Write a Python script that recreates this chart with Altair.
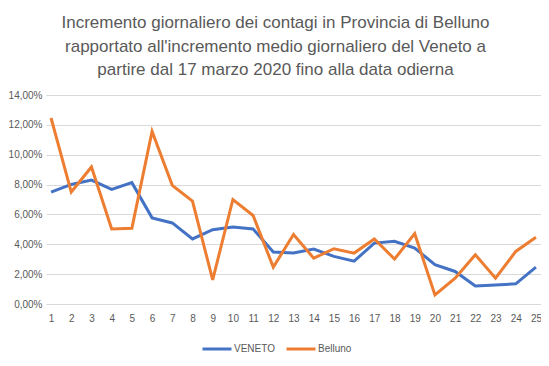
import altair as alt
import pandas as pd

days = list(range(1, 26))
veneto = [7.50, 8.01, 8.30, 7.68, 8.13, 5.77, 5.43, 4.36, 4.98, 5.16, 5.03, 3.48, 3.41,
          3.68, 3.19, 2.87, 4.08, 4.20, 3.75, 2.63, 2.18, 1.21, 1.28, 1.35, 2.47]
belluno = [12.46, 7.50, 9.18, 5.03, 5.07, 11.56, 7.95, 6.89, 1.62, 7.00, 5.93, 2.47, 4.65,
           3.07, 3.70, 3.41, 4.36, 3.01, 4.71, 0.61, 1.73, 3.30, 1.73, 3.52, 4.47]
series = ["VENETO", "Belluno"]
colors = ["#4472C4", "#ED7D31"]
y_ticks = [0, 2, 4, 6, 8, 10, 12, 14]
title_lines = ["Incremento giornaliero dei contagi in  Provincia di Belluno",
               "rapportato all'incremento medio giornaliero del Veneto a",
               "partire dal 17 marzo 2020 fino alla data odierna"]

rows = []
for d, v in zip(days, veneto):
    rows.append({"giorno": d, "valore": v, "serie": series[0]})
for d, v in zip(days, belluno):
    rows.append({"giorno": d, "valore": v, "serie": series[1]})
df = pd.DataFrame(rows)

chart = alt.Chart(df).mark_line(strokeWidth=3).encode(
    x=alt.X("giorno:Q", scale=alt.Scale(domain=[0.75, 25.25], nice=False, zero=False),
            axis=alt.Axis(values=days, title=None, grid=False, ticks=False,
                          domainColor="#d9d9d9", labelColor="#595959", labelFontSize=10,
                          labelPadding=9, labelFont="Liberation Sans")),
    y=alt.Y("valore:Q", scale=alt.Scale(domain=[0, 14], nice=False),
            axis=alt.Axis(values=y_ticks, title=None, domain=False, ticks=False,
                          gridColor="#d9d9d9", labelColor="#595959", labelFontSize=10,
                          labelPadding=4, labelFont="Liberation Sans",
                          labelExpr="replace(format(datum.value, '.2f'), '.', ',') + '%'")),
    color=alt.Color("serie:N", scale=alt.Scale(domain=series, range=colors),
                    sort=series,
                    legend=alt.Legend(title=None, orient="none", direction="horizontal",
                                      legendX=155, legendY=238, symbolType="stroke",
                                      symbolSize=841, symbolStrokeWidth=3,
                                      labelColor="#595959", labelFontSize=10,
                                      labelFont="Liberation Sans", columnPadding=5,
                                      labelOffset=1)),
).properties(
    width=495,
    height=209,
    autosize=alt.AutoSizeParams(type="none"),
    padding={"left": 38, "top": 87, "right": 0, "bottom": 62},
    title=alt.TitleParams(text=title_lines, anchor="middle", frame="group",
                          fontSize=17, font="Liberation Sans", fontWeight="normal",
                          color="#595959", lineHeight=23.5, offset=11, dx=-18),
).configure_view(stroke=None)

chart.save("out.html", embed_options={"renderer": "svg", "actions": False})
